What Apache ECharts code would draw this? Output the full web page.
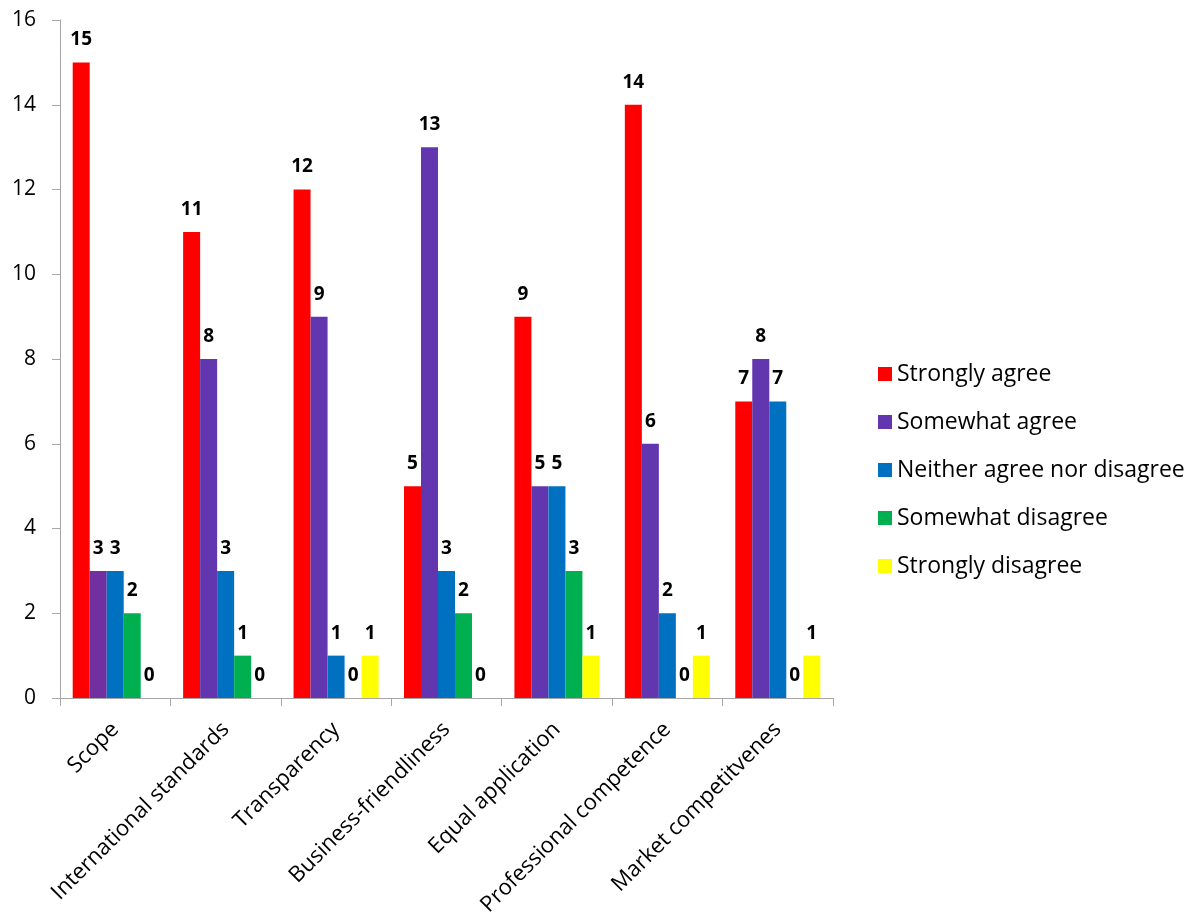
<!DOCTYPE html>
<html>
<head>
<meta charset="utf-8">
<script src="https://cdn.jsdelivr.net/npm/echarts@6/dist/echarts.min.js"></script>
<style>html,body{margin:0;padding:0;background:#fff}#c{width:1194px;height:921px}</style>
</head>
<body>
<div id="c"></div>
<script>
const categories = ["Scope","International standards","Transparency","Business-friendliness","Equal application","Professional competence","Market competitvenes"];
const seriesNames = ["Strongly agree","Somewhat agree","Neither agree nor disagree","Somewhat disagree","Strongly disagree"];
const stronglyAgree = [15,11,12,5,9,14,7];
const somewhatAgree = [3,8,9,13,5,6,8];
const neither = [3,3,1,3,5,2,7];
const somewhatDisagree = [2,1,0,2,3,0,0];
const stronglyDisagree = [0,0,1,0,1,1,1];
const colors = ["#FF0000","#6236AE","#0070C0","#00B050","#FFFF00"];
const yTicks = {min:0, max:16, interval:2};

const font = "Open Sans";
const allData = [stronglyAgree, somewhatAgree, neither, somewhatDisagree, stronglyDisagree];

const series = allData.map((d, i) => ({
  name: seriesNames[i],
  type: 'bar',
  data: d.map((v, j) => (i === 1 && j === 0) ? {value: v, itemStyle: {color: '#7030A0'}} : v),
  itemStyle: {color: colors[i]},
  barGap: '0%',
  barCategoryGap: '23%',
  label: {
    show: true, position: 'top', distance: 13,
    fontFamily: font, fontWeight: 'bold', fontSize: 19, color: '#000'
  }
}));

const chart = echarts.init(document.getElementById('c'));
chart.setOption({
  animation: false,
  color: colors,
  grid: {left: 60, right: 361, top: 20, bottom: 223, containLabel: false},
  legend: {
    orient: 'vertical', left: 873, top: 357,
    icon: 'rect', itemWidth: 14, itemHeight: 14, itemGap: 24,
    textStyle: {fontFamily: font, fontSize: 23, color: '#000', lineHeight: 24},
    data: seriesNames
  },
  xAxis: {
    type: 'category', data: categories,
    axisLine: {lineStyle: {color: '#a6a6a6', width: 1}},
    axisTick: {show: true, length: 8, lineStyle: {color: '#a6a6a6'}},
    axisLabel: {rotate: 45, interval: 0, fontFamily: font, fontSize: 22, color: '#000', margin: 28}
  },
  yAxis: {
    type: 'value', min: yTicks.min, max: yTicks.max, interval: yTicks.interval,
    axisLine: {show: true, lineStyle: {color: '#a6a6a6', width: 1}},
    axisTick: {show: true, length: 8, lineStyle: {color: '#a6a6a6'}},
    splitLine: {show: false},
    axisLabel: {fontFamily: font, fontSize: 21, color: '#000', margin: 24}
  },
  series: series
});
</script>
</body>
</html>
